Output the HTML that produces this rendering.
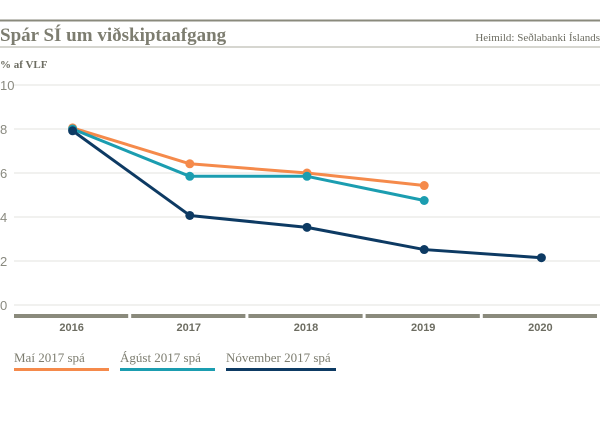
<!DOCTYPE html>
<html><head><meta charset="utf-8"><style>
body{margin:0;background:#fff;width:600px;height:437px;overflow:hidden;font-family:"Liberation Serif",serif}
</style></head><body>
<svg width="600" height="437" xmlns="http://www.w3.org/2000/svg">
<line x1="0" y1="20.5" x2="600" y2="20.5" stroke="#8a8a7c" stroke-width="2"/>
<text x="0" y="41" font-size="19" font-weight="bold" fill="#7d7d70">Spár SÍ um viðskiptaafgang</text>
<text x="600" y="41" font-size="11" fill="#6d6d62" text-anchor="end">Heimild: Seðlabanki Íslands</text>
<line x1="0" y1="47" x2="600" y2="47" stroke="#c8c8c0" stroke-width="1.5"/>
<text x="0" y="68" font-size="11" font-weight="bold" fill="#6d6d62">% af VLF</text>
<g id="grid"></g><g id="xaxis"></g><g id="series"></g><g id="legend"></g>
</svg>
<script>
const categories=["2016","2017","2018","2019","2020"];
const yTicks=[0,2,4,6,8,10];
const seriesNames=["Maí 2017 spá","Ágúst 2017 spá","Nóvember 2017 spá"];
const maiValues=[8.05,6.42,6.0,5.43];
const agustValues=[8.0,5.85,5.85,4.75];
const novValues=[7.92,4.07,3.53,2.52,2.15];
const colors=["#f58a4b","#1b9db0","#0d3a63"];
const NS="http://www.w3.org/2000/svg";
const x0=14,bw=117.2,yBase=305,yUnit=22;
function xs(i){return x0+bw*i+bw/2;}
function ys(v){return yBase-v*yUnit;}
function mk(t,a,p){const e=document.createElementNS(NS,t);for(const k in a)e.setAttribute(k,a[k]);p.appendChild(e);return e;}
const grid=document.getElementById('grid');
yTicks.forEach(v=>{
 const l=mk('line',{x1:14,x2:600,y1:ys(v),y2:ys(v),stroke:'#e3e3df','stroke-width':1},grid);
 
 
 const t=mk('text',{x:0,y:ys(v)+5,'font-size':13,fill:'#8a8a80','font-family':'Liberation Sans, sans-serif'},grid);
 t.textContent=v;
 
 
});
const xa=document.getElementById('xaxis');
categories.forEach((c,i)=>{
 const r=mk('rect',{x:x0+bw*i,y:314,width:bw-3,height:4,fill:'#8a8a7c'},xa);
 
 
 const t=mk('text',{x:xs(i)-1,y:331,'font-size':11,'font-weight':'bold',fill:'#6d6d62','text-anchor':'middle','font-family':'Liberation Sans, sans-serif'},xa);
 t.textContent=c;
 
 
});
const sg=document.getElementById('series');
[maiValues,agustValues,novValues].forEach((vals,s)=>{
 const pts=vals.map((v,i)=>xs(i)+','+ys(v)).join(' ');
 const pl=mk('polyline',{points:pts,fill:'none',stroke:colors[s],'stroke-width':3,'stroke-linejoin':'round'},sg);
 
 
 vals.forEach((v,i)=>{
  const c=mk('circle',{cx:xs(i),cy:ys(v),r:4.5,fill:colors[s]},sg);
  
  
 });
});
const lg=document.getElementById('legend');
const lx=[14,120,226],lw=[95,95,110];
seriesNames.forEach((n,s)=>{
 const t=mk('text',{x:lx[s],y:362,'font-size':13,fill:'#7d7d70'},lg);
 t.textContent=n;
 
 
 const l=mk('line',{x1:lx[s],x2:lx[s]+lw[s],y1:369.5,y2:369.5,stroke:colors[s],'stroke-width':3},lg);
 
 
});
</script>
</body></html>
